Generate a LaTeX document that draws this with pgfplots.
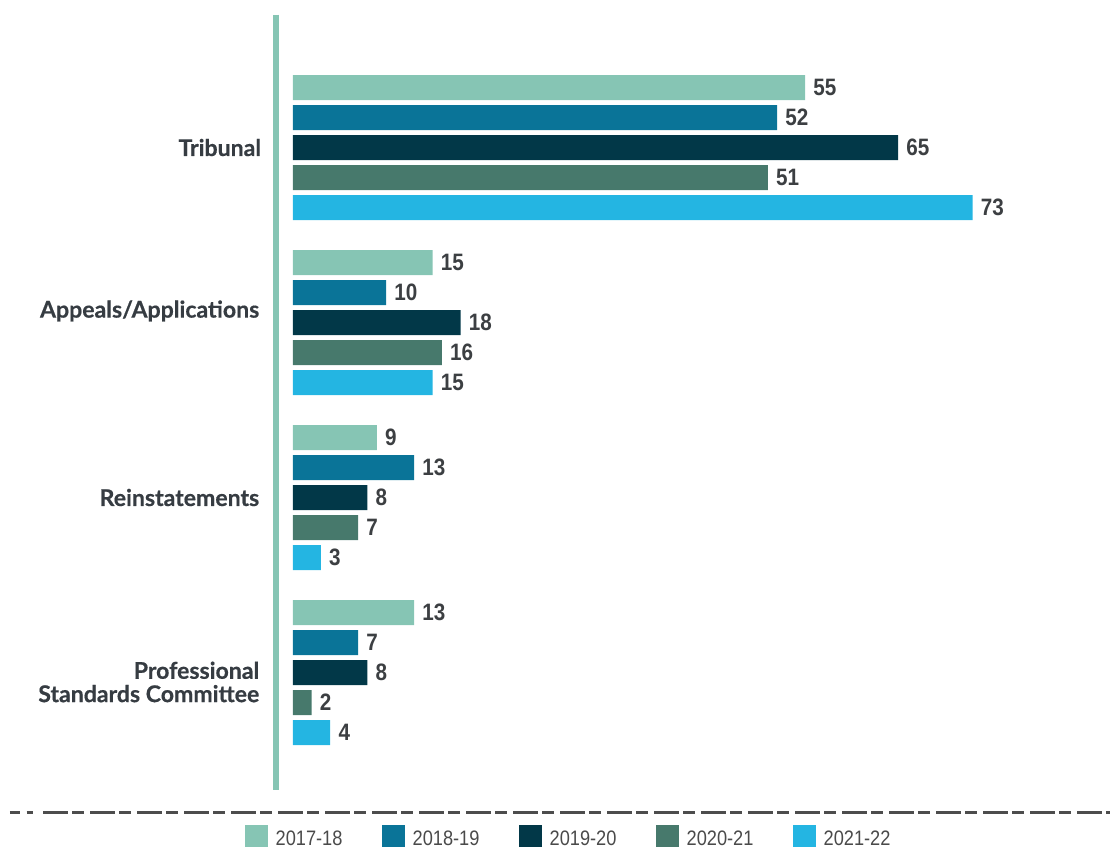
\documentclass[border=0pt]{standalone}
\usepackage{pgfplots}
\pgfplotsset{compat=1.18}
\usepackage{fontspec}
\setmainfont{Liberation Sans}
\newfontfamily\numfont[FakeStretch=0.87]{Liberation Sans}
\newfontfamily\catfont[BoldFeatures={FakeBold=0.5}]{Lato}
\definecolor{cA}{HTML}{86C5B4}
\definecolor{cB}{HTML}{0A7498}
\definecolor{cC}{HTML}{023848}
\definecolor{cD}{HTML}{47796C}
\definecolor{cE}{HTML}{24B5E2}
\definecolor{numcol}{HTML}{3C3F42}
\definecolor{catcol}{HTML}{363C42}
\definecolor{legcol}{HTML}{4A4A4A}
\definecolor{dashcol}{HTML}{4D4D4D}
\begin{document}
\begin{tikzpicture}
\begin{axis}[
  anchor=origin, at={(0pt,0pt)},
  x=6.9825pt, y=131.25pt, y dir=reverse,
  xmin=-1.826, xmax=80, ymin=-0.76, ymax=3.669,
  xbar, bar width=18.75pt,
  axis x line=none, axis y line*=left,
  ytick=\empty, xtick=\empty,
  y axis line style={draw=cA, line width=4.9pt, -},
  clip=false,
  point meta=x,
  nodes near coords,
  /pgf/number format/assume math mode=true,
  nodes near coords style={font=\numfont\bfseries\fontsize{17.8}{18}\selectfont, text=numcol, anchor=west, inner sep=0pt, xshift=6pt},
  legend columns=5,
  legend style={at={(axis description cs:-0.0407,-0.0600)}, anchor=west, draw=none, fill=none, inner sep=0pt, outer sep=0pt,
    nodes={inner sep=0pt, text=legcol},
    font=\numfont\fontsize{15.7}{16}\selectfont,
    /tikz/every odd column/.append style={column sep=6pt},
    /tikz/every even column/.append style={column sep=27.75pt}},
  legend image code/.code={\fill[#1,draw=none] (0pt,-6.3pt) rectangle (17pt,10.7pt);},
]
\addplot[fill=cA, draw=none, bar shift=45pt] coordinates {(55,0) (15,1) (9,2) (13,3)};
\addplot[fill=cB, draw=none, bar shift=22.5pt] coordinates {(52,0) (10,1) (13,2) (7,3)};
\addplot[fill=cC, draw=none, bar shift=0pt] coordinates {(65,0) (18,1) (8,2) (8,3)};
\addplot[fill=cD, draw=none, bar shift=-22.5pt] coordinates {(51,0) (16,1) (7,2) (2,3)};
\addplot[fill=cE, draw=none, bar shift=-45pt] coordinates {(73,0) (15,1) (3,2) (4,3)};
\legend{\makebox[52pt][l]{2017-18},\makebox[52pt][l]{2018-19},\makebox[52pt][l]{2019-20},\makebox[52pt][l]{2020-21},\makebox[52pt][l]{2021-22}}
\begin{scope}[every node/.style={anchor=east, inner sep=0pt, text=catcol, font=\catfont\bfseries\fontsize{17.3}{17.5}\selectfont}]
\node at (axis cs:-3.4,0) {Tribunal};
\node at (axis cs:-3.6,0.934) {Appeals/Applications};
\node at (axis cs:-3.6,2) {Reinstatements};
\node[align=right] at (axis cs:-3.6,3.054) {Professional\hspace{3pt}\\Standards Committee};
\end{scope}
\draw[dashcol, line width=2.25pt, dash pattern=on 7.5pt off 5pt on 8.5pt off 4.5pt] (axis cs:-30.4,3.80) -- (axis cs:-27.9,3.80);
\draw[dashcol, line width=2.25pt, dash pattern=on 18.75pt off 3pt on 9pt off 4.5pt] (axis cs:-26.8,3.80) -- (axis cs:87.8,3.80);
\end{axis}
\pgfresetboundingbox
\path[use as bounding box] (-219.75pt,-533.625pt) rectangle (612.75pt,110.625pt);
\end{tikzpicture}
\end{document}
